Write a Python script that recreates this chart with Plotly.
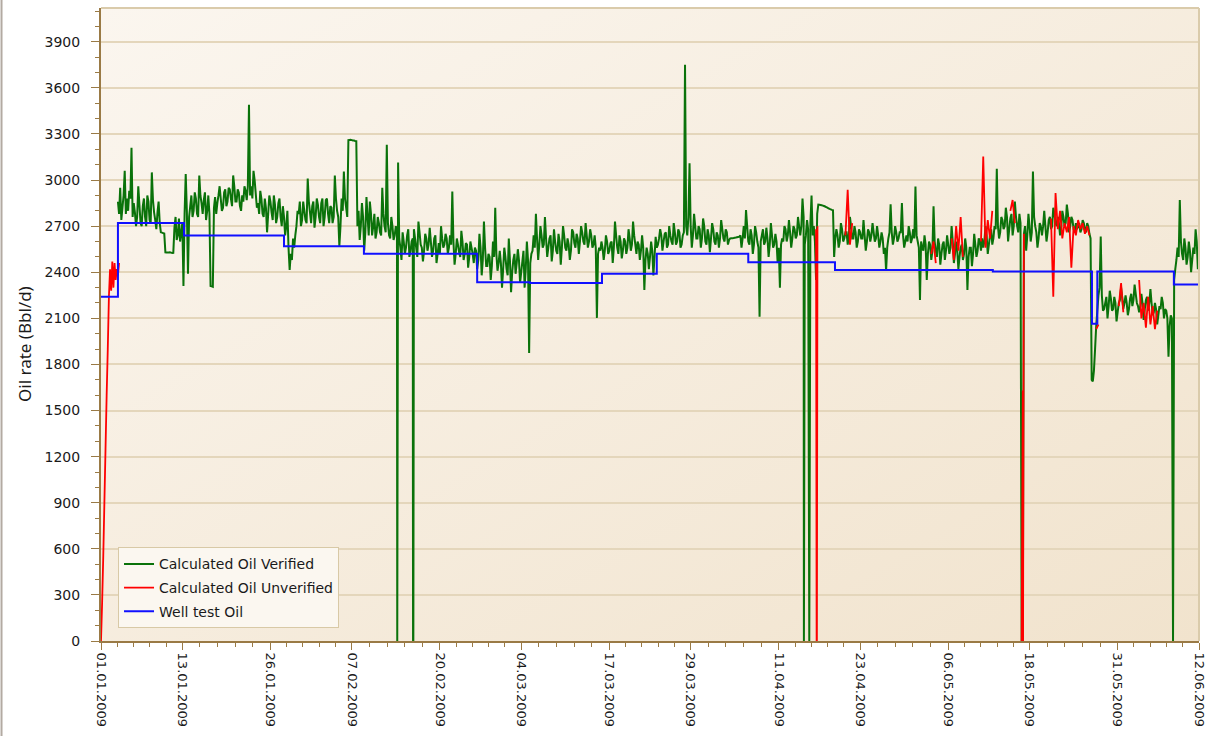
import base64
import pandas as pd
import plotly.graph_objects as go

# ---------------- data ----------------
# Calculated oil rate, verified (Bbl/d).
# "a" lists: samples at 04:00, 12:00, 20:00; "b" lists: samples at 00:00, 08:00, 16:00
green_jan_a_start = "2009-01-03 12:00"
green_jan_a = [
    2860, 2950,
    2820, 3060, 2880,  2930, 3210, 2850,  2700, 2960, 2720,  2830, 2760, 2900,
    2740, 3050, 2790,  2680, 2860, 2660,  2655, 2530, 2528,  2530, 2526, 2690,
    2610, 2750, 2660,  2310, 3040, 2390,  2830, 2760, 2920,  2780, 3030, 2850,
    2870, 2740, 2900,  2310, 2305, 2890,  2850, 2960, 2800,  2920, 2830, 2950,
    2880, 3030, 2860,  2940, 2830, 2900,  2960, 2870, 3490,  2960, 3060, 2910,
    2850, 2930, 2780,  2880, 2660, 2900,  2790, 2900, 2720,  2850, 2760, 2830,
    2640, 2800, 2415,  2480, 2560, 2700,  2780, 2700, 2860,  2740, 3010, 2790,
]
green_jan_b_start = "2009-01-03 16:00"
green_jan_b = [
    2780,
    2740, 2900, 2780,  2800, 2880, 2760,  2790, 2760, 2840,  2700, 2880, 2700,
    2860, 2720, 2870,  2740, 2790, 2720,  2658, 2652, 2529,  2529, 2528, 2527,
    2760, 2640, 2600,  2720, 2780, 2800,  2760, 2900, 2800,  2880, 2760, 2900,
    2780, 2920, 2800,  2780, 2308, 2820,  2780, 2900, 2880,  2820, 2940, 2860,
    2940, 2830, 2960,  2860, 2920, 2800,  2860, 2930, 2960,  2900, 2880, 3000,
    2820, 2780, 2880,  2760, 2820, 2780,  2860, 2740, 2840,  2760, 2880, 2700,
    2760, 2700, 2560,  2520, 2620, 2640,  2800, 2860, 2740,  2800, 2720, 2860,
]
green_feb_a_start = "2009-02-01 04:00"
green_feb_a = [
    2830, 2690, 2880,  2760, 2850, 2700,  2870, 2780, 2830,  2720, 3030, 2800,
    2570, 2880, 3055,  2820, 3260, 3262,  3258, 3255, 2700,  2610, 2850, 2540,
    2890, 2640, 2780,  2700, 2620, 2760,  2660, 2950, 2700,  3230, 2640, 2760,
    2610, 2700, 3114,  2560, 2660, 2520,  2640, 2500, 2600,  2680, 2560, 2730,
    2580, 2470, 2650,  2540, 2690, 2500,  2620, 2460, 2590,  2700, 2560, 2650,
    2520, 2640, 2925,  2450, 2620, 2530,  2670, 2480, 2590,  2430, 2600, 2520,
    2560, 2420, 2650,  2380, 2730, 2440,  2520, 2350, 2600,  2820, 2410, 2540,
]
green_feb_b_start = "2009-02-01 00:00"
green_feb_b = [
    2720, 2860, 2760,  2840, 2720, 2880,  2760, 2880, 2720,  2820, 2760, 2880,
    2760, 2700, 2800,  2880, 2760, 3261,  3260, 3257, 3254,  2800, 2700, 2760,
    2660, 2760, 2860,  2640, 2780, 2660,  2720, 2640, 2780,  2660, 2720, 2620,
    2700, 2640, 2660,  2620, 2480, 2600,  2560, 2680, 2540,  2620, 2620, 2500,
    2660, 2560, 2540,  2620, 2580, 2600,  2540, 2640, 2520,  2520, 2620, 2580,
    2620, 2560, 2580,  2600, 2520, 2580,  2500, 2600, 2520,  2580, 2500, 2560,
    2460, 2540, 2480,  2560, 2480, 2560,  2440, 2500, 2440,  2500, 2520, 2460,
]
green_mar_a_start = "2009-03-01 04:00"
green_mar_a = [
    2300, 2560, 2420,  2620, 2270, 2480,  2390, 2550, 2330,  2470, 2300, 2600,
    1875, 2520, 2640,  2780, 2480, 2700,  2560, 2760, 2500,  2620, 2470, 2680,
    2540, 2650, 2450,  2700, 2560, 2620,  2480, 2680, 2590,  2650, 2520, 2700,
    2600, 2720, 2560,  2680, 2560, 2640,  2103, 2560, 2600,  2480, 2640, 2520,
    2590, 2460, 2730,  2560, 2640, 2490,  2620, 2520, 2680,  2540, 2730, 2580,
    2600, 2480, 2640,  2285, 2560, 2420,  2600, 2380, 2630,  2580, 2680, 2540,
    2650, 2560, 2700,  2600, 2720, 2580,  2680, 2560, 2640,  3750, 2640, 3110,
    2560, 2780, 2620,  2700, 2560, 2750,  2600, 2680, 2530,
]
green_mar_b_start = "2009-03-01 00:00"
green_mar_b = [
    2460, 2420, 2500,  2380, 2480, 2400,  2520, 2460, 2480,  2400, 2540, 2420,
    2480, 2460, 2540,  2560, 2620, 2580,  2640, 2580, 2620,  2560, 2640, 2540,
    2600, 2520, 2600,  2560, 2640, 2540,  2580, 2540, 2660,  2560, 2620, 2600,
    2660, 2580, 2640,  2600, 2640, 2580,  2560, 2520, 2540,  2560, 2540, 2600,
    2540, 2600, 2560,  2640, 2520, 2600,  2540, 2600, 2560,  2620, 2580, 2640,
    2520, 2580, 2540,  2560, 2480, 2520,  2500, 2540, 2500,  2560, 2620, 2640,
    2600, 2660, 2580,  2640, 2580, 2660,  2600, 2660, 2580,  2660, 2700, 2760,
    2700, 2640, 2700,  2620, 2680, 2620,  2700, 2580, 2640,
]
green_apr_a_start = "2009-04-01 04:00"
green_apr_a = [
    2720, 2600, 2660,  2560, 2740, 2620,  2680, 2580, 2620,  2622, 2625, 2628,
    2632, 2560, 2700,  2805, 2600, 2680,  2520, 2700, 2600,  2111, 2640, 2580,
    2690, 2500, 2720,  2560, 2650, 2460,  2300, 2620, 2700,  2600, 2740, 2560,
    2700, 2620, 2760,  2640, 2880, 2580,  2740,    0, 2900,  2700, 2350, 2840,
    2838, 2834, 2828,  2820, 2812, 2806,  2500, 2680, 2560,  2720, 2600, 2660,
    2580, 2760, 2620,  2700, 2560, 2680,  2620, 2740, 2540,  2680, 2600, 2720,
    2600, 2700, 2560,  2660, 2520, 2410,  2620, 2843, 2580,  2700, 2600, 2660,
    2850, 2560, 2640,  2700, 2590, 2680,
]
green_apr_b_start = "2009-04-01 00:00"
green_apr_b = [
    2620, 2680, 2580,  2640, 2620, 2680,  2600, 2660, 2610,  2621, 2623, 2626,
    2630, 2640, 2620,  2620, 2700, 2580,  2640, 2580, 2660,  2560, 2600, 2680,
    2600, 2620, 2580,  2640, 2580, 2600,  2560, 2580, 2600,  2680, 2640, 2660,
    2620, 2680, 2640,  2700, 2700, 2760,  2640, 2680, 2720,  2640, 2600, 2780,
    2839, 2836, 2831,  2824, 2816, 2809,  2804, 2620, 2640,  2600, 2680, 2620,
    2660, 2640, 2700,  2620, 2660, 2600,  2660, 2620, 2640,  2600, 2660, 2640,
    2660, 2620, 2640,  2600, 2620, 2560,  2560, 2660, 2660,  2620, 2660, 2620,
    2660, 2640, 2600,  2600, 2660, 2620,
]
green_may_a_start = "2009-05-01 04:00"
green_may_a = [
    2958, 2600, 2220,  2560, 2640, 2350,  2600, 2480, 2830,  2540, 2620, 2450,
    2580, 2480, 2640,  2520, 2700, 2460,  2600, 2420, 2560,  2480, 2620, 2285,
    2560, 2440, 2650,  2500, 2620, 2540,  2560, 2700, 2520,  2640, 2580, 2700,
    3073, 2620, 2760,  2680, 2820, 2600,  2750, 2640, 2860,  2700, 2780,    0,
    2650, 2540, 2780,  2600, 3055, 2700,  2560, 2720, 2640,  2800, 2600, 2740,
    2680, 2820, 2720,  2760, 2640, 2800,  2700, 2840, 2660,  2760, 2680, 2720,
    2700, 2660, 2740,  2680, 2720, 2650,  1700, 1760, 2050,  2250, 2632, 2150,
    2200, 2100, 2280,  2150, 2240, 2080,  2200, 2300, 2160,
]
green_may_b_start = "2009-05-01 00:00"
green_may_b = [
    2620, 2640, 2560,  2600, 2540, 2580,  2520, 2580, 2540,  2600, 2500, 2580,
    2520, 2600, 2540,  2580, 2560, 2600,  2520, 2540, 2500,  2580, 2520, 2560,
    2500, 2560, 2520,  2580, 2540, 2600,  2620, 2600, 2640,  2580, 2680, 2620,
    2680, 2700, 2660,  2740, 2700, 2760,  2680, 2780, 2700,  2760, 2660, 2720,
       0, 2700, 2640,  2700, 2660, 2760,  2660, 2620, 2700,  2700, 2700, 2660,
    2760, 2700, 2780,  2700, 2720, 2680,  2760, 2720, 2780,  2700, 2740, 2660,
    2680, 2720, 2680,  2720, 2660, 2700,  2620, 1690, 1900,  2150, 2300, 2250,
    2160, 2240, 2180,  2230, 2160, 2200,  2140, 2220, 2240,
]
green_jun_a_start = "2009-06-01 04:00"
green_jun_a = [
    2250, 2120, 2230,  2180, 2320, 2200,  2140, 2260, 2090,  2220, 2150, 2290,
    2120, 2200, 2060,  2180, 2240, 2100,  2150, 1850, 2120,     0, 2420, 2560,
    2870, 2520, 2620,  2450, 2600, 2400,  2560, 2680, 2420,
]
green_jun_b_start = "2009-06-01 00:00"
green_jun_b = [
    2200, 2200, 2160,  2260, 2220, 2260,  2180, 2180, 2200,  2160, 2240, 2200,
    2200, 2140, 2160,  2120, 2160, 2200,  2160, 2100, 2050,  2100, 2350, 2480,
    2500, 2600, 2480,  2560, 2500, 2540,  2480, 2520, 2600,  2500,
]
# short outages logged between the regular samples
green_evt_times = ["2009-02-13 17:00", "2009-02-16 00:30", "2009-02-16 01:00",
                   "2009-02-16 02:00", "2009-04-14 17:00"]
green_evt_vals = [0, 1050, 0, 0, 0]

# Calculated oil rate, unverified (Bbl/d)
red_jan_start = "2009-01-01 00:00"   # 4 h samples during start-up
red_jan = [0, 250, 550, 900, 1250, 1600, 1900, 2240, 2420, 2280, 2470, 2300,
           2460, 2350, 2420, 2380, 2460]
red_apr20_start = "2009-04-20 20:00"
red_apr20 = [2640, 2936, 2580, 2720]
red_may03_start = "2009-05-03 12:00"
red_may03 = [2520, 2600, 2460]
red_may06_start = "2009-05-06 12:00"
red_may06 = [2620, 2480, 2700, 2540, 2760, 2500]
red_may10_start = "2009-05-10 20:00"
red_may10 = [2600, 3153, 2560, 2740, 2620, 2800]
red_may15_start = "2009-05-15 04:00"
red_may15 = [2800, 2870, 2720]
red_may21_start = "2009-05-21 04:00"
red_may21 = [2750, 2240, 2915, 2680, 2800, 2620, 2720, 2660, 2760, 2430,
             2700, 2640, 2740, 2680, 2720, 2650, 2700, 2640]
red_may27_start = "2009-05-27 20:00"
red_may27 = [2030, 2060]
red_may31_start = "2009-05-31 04:00"
red_may31 = [2180, 2330, 2140]
red_jun03_start = "2009-06-03 04:00"
red_jun03 = [2350, 2100, 2200, 2040, 2240, 2060, 2180, 2030, 2150]
red_drop1_times = ["2009-04-16 12:00", "2009-04-16 14:00", "2009-04-16 15:00",
                   "2009-04-16 17:00"]
red_drop1 = [2680, 0, 0, 2700]
red_drop2_times = ["2009-05-16 20:00", "2009-05-17 00:00", "2009-05-17 01:00",
                   "2009-05-17 03:00", "2009-05-17 04:00"]
red_drop2 = [0, 1630, 0, 2030, 2650]

# Well test oil rate (Bbl/d), step changes
well_dates = ["2009-01-01 00:00", "2009-01-03 12:00", "2009-01-13 06:00",
              "2009-01-28 00:00", "2009-02-08 19:00", "2009-02-25 12:00",
              "2009-03-05 07:00", "2009-03-15 22:00", "2009-03-24 00:00",
              "2009-04-06 12:00", "2009-04-19 07:00", "2009-05-12 14:00",
              "2009-05-27 05:00", "2009-05-28 00:00", "2009-06-08 07:00",
              "2009-06-12 00:00"]
well_vals = [2240, 2720, 2640, 2570, 2520, 2335, 2330, 2390, 2520, 2465,
             2415, 2405, 2065, 2405, 2320, 2320]

# Axis tick labels
x_tick_labels = ["01.01.2009", "13.01.2009", "26.01.2009", "07.02.2009",
                 "20.02.2009", "04.03.2009", "17.03.2009", "29.03.2009",
                 "11.04.2009", "23.04.2009", "06.05.2009", "18.05.2009",
                 "31.05.2009", "12.06.2009"]
y_tick_vals = list(range(0, 4000, 300))


# ---------------- helpers ----------------
def regular(start, values, step="8h"):
    idx = pd.date_range(start=start, periods=len(values), freq=step)
    return pd.Series(values, index=idx, dtype="float")


def explicit(times, values):
    return pd.Series(values, index=pd.to_datetime(times), dtype="float")


green = pd.concat([
    regular(green_jan_a_start, green_jan_a), regular(green_jan_b_start, green_jan_b),
    regular(green_feb_a_start, green_feb_a), regular(green_feb_b_start, green_feb_b),
    regular(green_mar_a_start, green_mar_a), regular(green_mar_b_start, green_mar_b),
    regular(green_apr_a_start, green_apr_a), regular(green_apr_b_start, green_apr_b),
    regular(green_may_a_start, green_may_a), regular(green_may_b_start, green_may_b),
    regular(green_jun_a_start, green_jun_a), regular(green_jun_b_start, green_jun_b),
    explicit(green_evt_times, green_evt_vals),
]).sort_index(kind="stable")

red_parts = [
    regular(red_jan_start, red_jan, "4h"),
    explicit(red_drop1_times, red_drop1),
    regular(red_apr20_start, red_apr20), regular(red_may03_start, red_may03),
    regular(red_may06_start, red_may06), regular(red_may10_start, red_may10),
    regular(red_may15_start, red_may15), explicit(red_drop2_times, red_drop2),
    regular(red_may21_start, red_may21), regular(red_may27_start, red_may27),
    regular(red_may31_start, red_may31), regular(red_jun03_start, red_jun03),
]
red_x, red_y = [], []
for part in red_parts:
    red_x += list(part.index) + [part.index[-1] + pd.Timedelta(minutes=1)]
    red_y += list(part.values) + [None]

tick_dates = pd.to_datetime(x_tick_labels, format="%d.%m.%Y")
minor_dates = []
for a, b in zip(tick_dates[:-1], tick_dates[1:]):
    step = (b - a) / 5
    minor_dates += [a + step * k for k in range(1, 5)]

# ---------------- figure ----------------
fig = go.Figure()
fig.add_trace(go.Scatter(x=green.index, y=green.values, mode="lines",
                         name="Calculated Oil Verified", legendgroup="a",
                         line=dict(color="#0a720a", width=2, simplify=False)))
fig.add_trace(go.Scatter(x=red_x, y=red_y, mode="lines", connectgaps=False,
                         name="Calculated Oil Unverified", legendgroup="b",
                         line=dict(color="#ff0000", width=1.8, simplify=False)))
fig.add_trace(go.Scatter(x=pd.to_datetime(well_dates), y=well_vals, mode="lines",
                         name="Well test Oil", legendgroup="c",
                         line=dict(color="#1010ff", width=2, shape="hv")))

# plot-area background: soft diagonal beige gradient
svg = ('<svg xmlns="http://www.w3.org/2000/svg" width="1098" height="633" '
       'preserveAspectRatio="none"><defs><linearGradient id="g" x1="0" y1="0" '
       'x2="1" y2="1"><stop offset="0" stop-color="#fbf6ef"/>'
       '<stop offset="1" stop-color="#f1e3cd"/></linearGradient></defs>'
       '<rect width="1098" height="633" fill="url(#g)"/></svg>')
bg_src = "data:image/svg+xml;base64," + base64.b64encode(svg.encode()).decode()

axis_brown = "#9a7a45"
frame_tan = "#dacbab"

fig.update_layout(
    width=1210, height=736,
    margin=dict(l=101, r=11, t=8, b=95, autoexpand=False),
    paper_bgcolor="white",
    plot_bgcolor="rgba(0,0,0,0)",
    font=dict(family="DejaVu Sans", size=14, color="#1a1a1a"),
    images=[dict(source=bg_src, xref="paper", yref="paper", x=0, y=1,
                 sizex=1, sizey=1, sizing="stretch", xanchor="left",
                 yanchor="top", layer="below")],
    shapes=[
        dict(type="line", xref="paper", yref="paper", x0=0, x1=1, y0=1, y1=1,
             line=dict(color=frame_tan, width=2)),
        dict(type="line", xref="paper", yref="paper", x0=1, x1=1, y0=0, y1=1,
             line=dict(color=frame_tan, width=2)),
        dict(type="line", xref="paper", yref="paper", x0=-0.0906, x1=-0.0906,
             y0=-0.16, y1=1.02, line=dict(color="#b3aaa2", width=2)),
    ],
    annotations=[
        dict(text="Oil rate (Bbl/d)", xref="paper", yref="paper",
             x=(25 - 101) / 1098, y=(641 - 344) / 633, textangle=-90,
             showarrow=False, xanchor="center", yanchor="middle",
             font=dict(family="Noto Sans", size=17, color="#1a1a1a")),
    ],
    showlegend=True,
    legend=dict(x=0.0155, y=0.148, xanchor="left", yanchor="top",
                bgcolor="#fbf7f0", bordercolor="#d8c9a6", borderwidth=1,
                font=dict(family="DejaVu Sans", size=14, color="#1a1a1a"),
                traceorder="grouped", tracegroupgap=2.5),
    xaxis=dict(
        type="date", range=[tick_dates[0], tick_dates[-1]], automargin=False,
        tickmode="array", tickvals=tick_dates, ticktext=x_tick_labels,
        tickangle=90, tickfont=dict(size=13, color="#1a1a1a"),
        ticks="outside", ticklen=7, tickcolor=axis_brown, tickwidth=1,
        showline=True, linecolor=axis_brown, linewidth=2,
        showgrid=False, zeroline=False,
        minor=dict(tickmode="array", tickvals=minor_dates, ticks="outside",
                   ticklen=4, tickcolor=axis_brown, showgrid=False),
    ),
    yaxis=dict(
        range=[0, 4120], tickmode="array", tickvals=y_tick_vals, automargin=False,
        tickfont=dict(size=14, color="#1a1a1a"),
        ticks="outside", ticklen=8, tickcolor=axis_brown, tickwidth=1,
        ticklabelstandoff=8,
        showline=True, linecolor=axis_brown, linewidth=2,
        showgrid=True, gridcolor="#e4d6bb", gridwidth=1.5, zeroline=False,
        minor=dict(dtick=100, ticks="outside", ticklen=4, tickcolor=axis_brown,
                   showgrid=False),
    ),
)

fig.write_html("out.html")
